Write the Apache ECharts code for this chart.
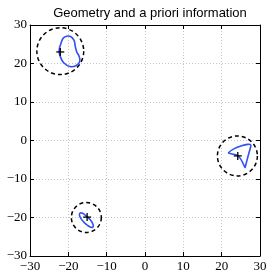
<!DOCTYPE html>
<html>
<head>
<meta charset="utf-8">
<script src="https://cdn.jsdelivr.net/npm/echarts@6/dist/echarts.min.js"></script>
<style>html,body{margin:0;padding:0;background:#fff}#c{width:271px;height:273px}</style>
</head>
<body>
<div id="c"></div>
<script>
const titleText = 'Geometry and a priori information';
const tickValues = [-30, -20, -10, 0, 10, 20, 30];
// a priori circles: [cx, cy, r]
const circles = [[-22.1, 23.2, 6.1], [24.1, -4.0, 5.2], [-15.3, -20.0, 3.9]];
// '+' markers
const markers = [[-22.1, 23.0], [24.2, -4.0], [-15.1, -19.9]];
// blue boundary curves
const shape1 = [[-20.5,27.1],[-21.4,26.5],[-22.0,25.0],[-22.4,23.4],[-22.1,21.8],[-21.2,20.2],[-19.6,19.2],[-17.9,19.5],[-17.0,20.6],[-17.2,21.9],[-17.8,23.0],[-18.2,24.5],[-18.5,26.0],[-19.4,27.0]];
const shape2 = [[21.8,-3.2],[23.3,-2.1],[25.0,-1.4],[26.8,-1.0],[27.6,-1.2],[27.3,-2.6],[26.8,-4.4],[26.3,-6.3],[26.1,-7.0],[25.6,-6.0],[24.9,-4.7],[24.0,-3.8],[22.7,-3.5]];
const shape3 = [[-13.6,-22.5],[-13.5,-22.0],[-13.9,-21.1],[-14.7,-20.15],[-15.7,-19.3],[-16.5,-18.85],[-17.0,-18.9],[-17.1,-19.4],[-16.7,-20.3],[-15.9,-21.25],[-14.9,-22.1],[-14.1,-22.55]];
const shapes = [shape1, shape2, shape3];
const shapeSmooth = [0.4, 0.25, 0.4];

const fmt = v => v < 0 ? '\u2212' + Math.abs(v) : String(v);
const labelStyle = {color:'#000', fontFamily:'Liberation Serif', fontSize:13};
function axis(extra) {
  return Object.assign({
    type:'value', min:-30, max:30, interval:10,
    axisLine:{show:true, onZero:false, lineStyle:{color:'#000', width:1}},
    axisTick:{show:true, inside:true, length:4, lineStyle:{color:'#000'}},
    splitLine:{show:false}
  }, extra);
}
const chart = echarts.init(document.getElementById('c'));
chart.setOption({
  animation:false,
  title:{text:titleText, left:145, top:2, textAlign:'center',
    textStyle:{fontFamily:'Liberation Sans', fontSize:13, fontWeight:'normal', color:'#000'}},
  grid:{left:30, right:11, top:25, bottom:17, containLabel:false},
  xAxis:[
    axis({position:'bottom', axisLabel:Object.assign({formatter:fmt, margin:4}, labelStyle),
      splitLine:{show:true, lineStyle:{color:'#c4c4c4', type:[1,2], width:1}}}),
    axis({position:'top', axisLabel:{show:false}})
  ],
  yAxis:[
    axis({position:'left', axisLabel:Object.assign({formatter:fmt, margin:3}, labelStyle),
      splitLine:{show:true, lineStyle:{color:'#c4c4c4', type:[1,2], width:1}}}),
    axis({position:'right', axisLabel:{show:false}})
  ],
  series:[
    {
      type:'custom', coordinateSystem:'cartesian2d', silent:true,
      data:circles, encode:{x:0, y:1},
      renderItem:(params, api) => {
        const c = api.coord([api.value(0), api.value(1)]);
        const s = api.size([api.value(2), api.value(2)]);
        return {type:'circle', shape:{cx:c[0], cy:c[1], r:(s[0]+s[1])/2},
          style:{fill:'none', stroke:'#000', lineWidth:1.5, lineDash:[4,3]}};
      }
    },
    {
      type:'custom', coordinateSystem:'cartesian2d', silent:true,
      data:shapes.map((s,i) => [s[0][0], s[0][1], i]), encode:{x:0, y:1},
      renderItem:(params, api) => {
        const i = api.value(2);
        const pts = shapes[i].map(p => api.coord(p));
        return {type:'polygon', shape:{points:pts, smooth:shapeSmooth[i]},
          style:{fill:'none', stroke:'#3050f5', lineWidth:1.6}};
      }
    },
    {
      type:'custom', coordinateSystem:'cartesian2d', silent:true,
      data:markers, encode:{x:0, y:1},
      renderItem:(params, api) => {
        const c = api.coord([api.value(0), api.value(1)]);
        const h = 4;
        return {type:'group', children:[
          {type:'line', shape:{x1:c[0]-h, y1:c[1], x2:c[0]+h, y2:c[1]}, style:{stroke:'#000', lineWidth:1.3}},
          {type:'line', shape:{x1:c[0], y1:c[1]-h, x2:c[0], y2:c[1]+h}, style:{stroke:'#000', lineWidth:1.3}}
        ]};
      }
    }
  ]
});
</script>
</body>
</html>
